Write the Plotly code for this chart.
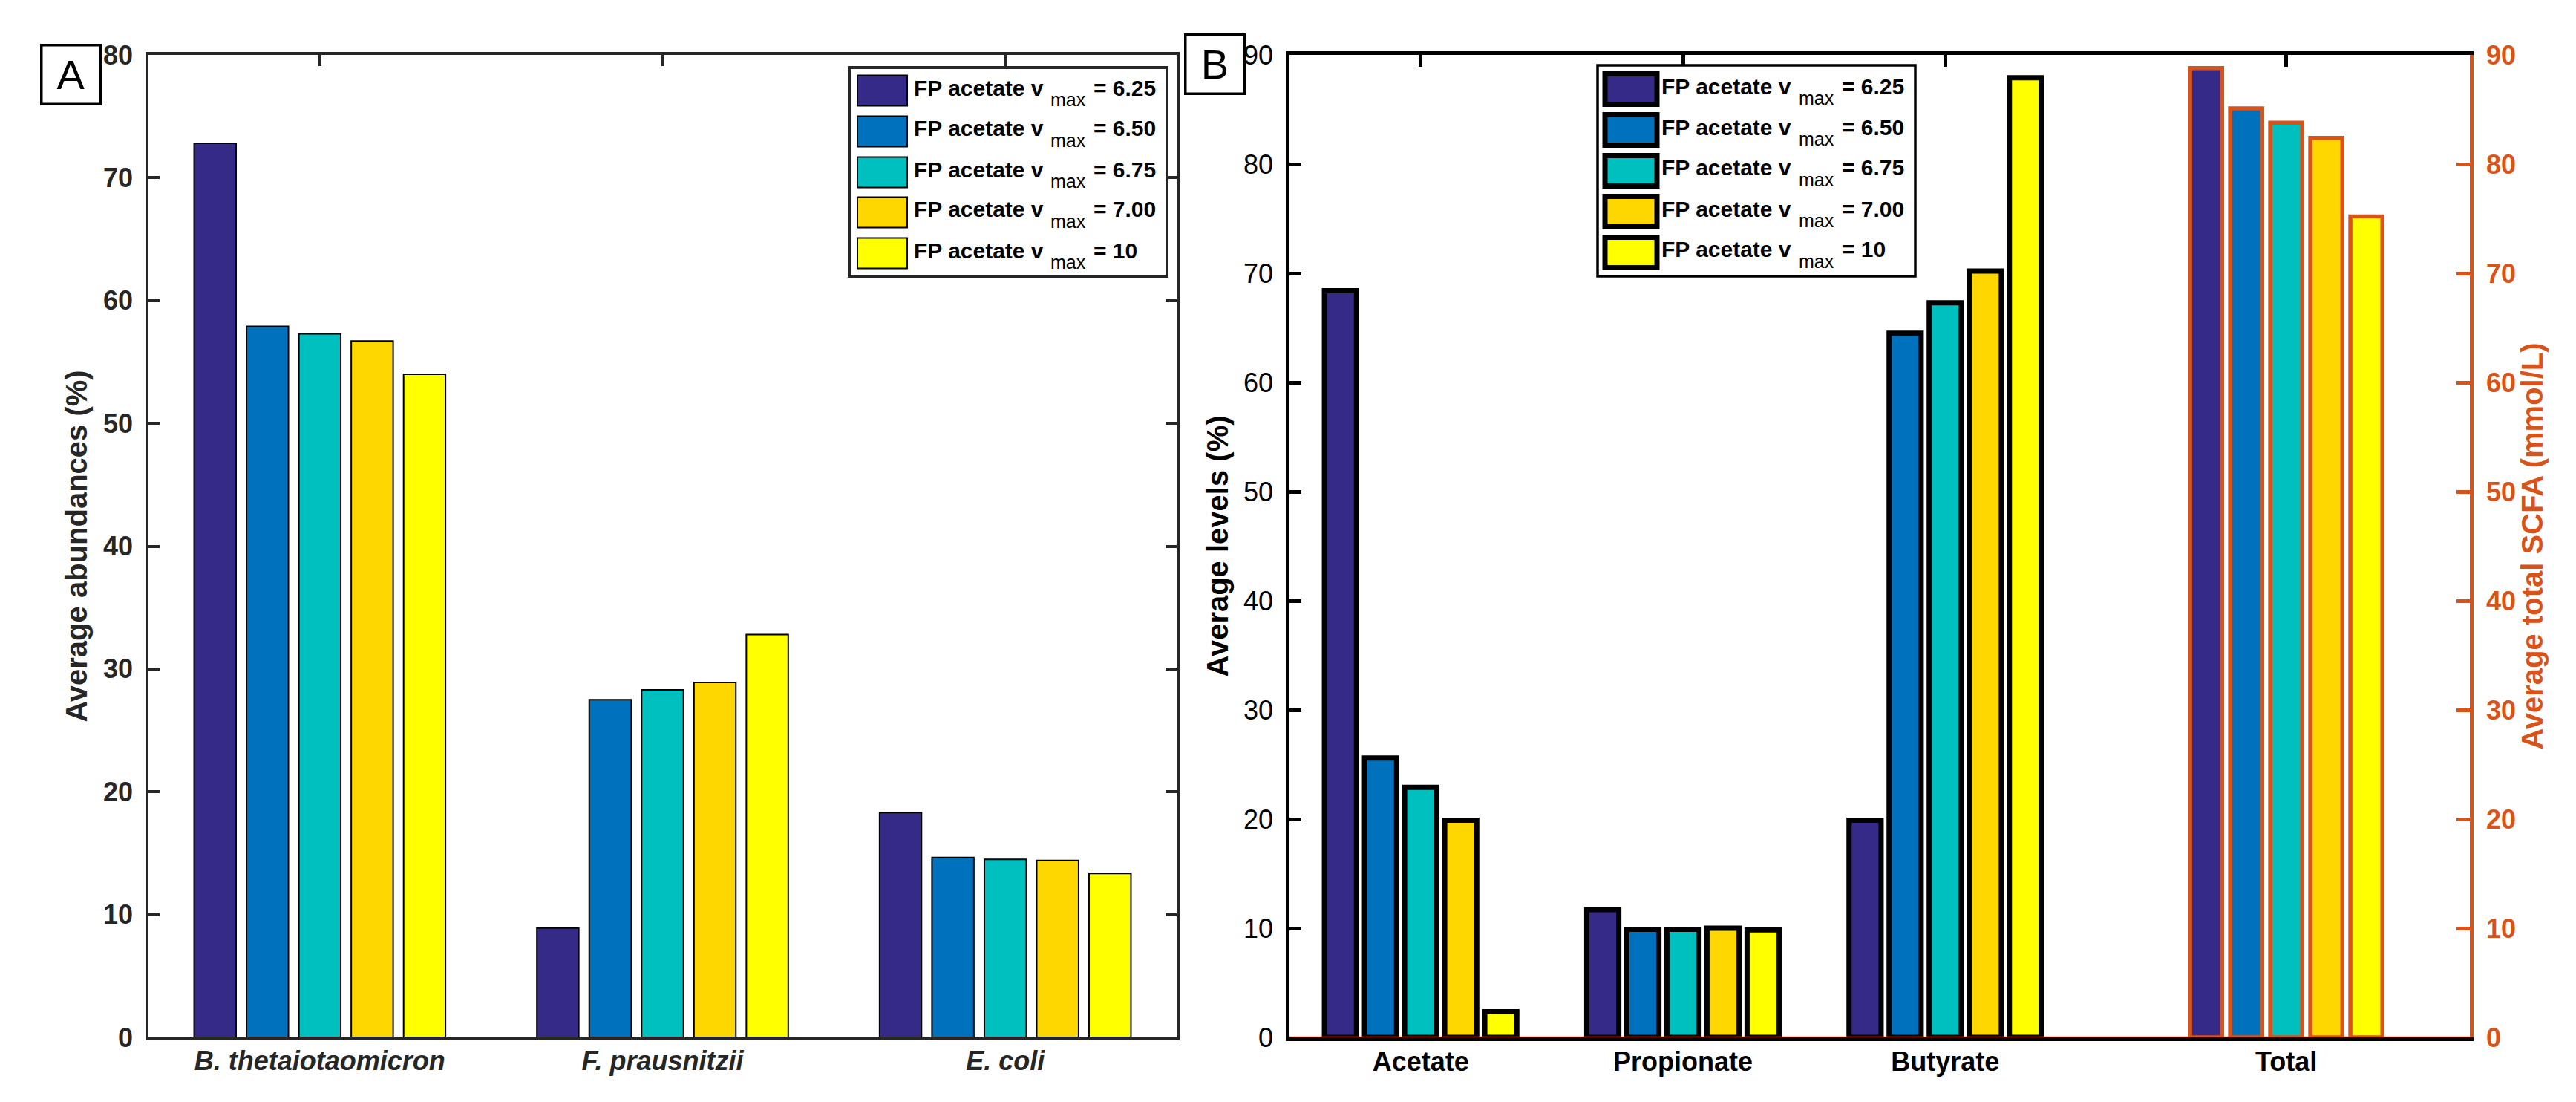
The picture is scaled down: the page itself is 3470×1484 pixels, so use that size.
import plotly.graph_objects as go

# ---------------- data ----------------
species = ["B. thetaiotaomicron", "F. prausnitzii", "E. coli"]
scfa_names = ["Acetate", "Propionate", "Butyrate"]
total_name = "Total"
vmax_labels = ["6.25", "6.50", "6.75", "7.00", "10"]
colors = ["#352A87", "#0072BD", "#00BFBF", "#FFD700", "#FFFF00"]

# Panel A: average abundances (%) per species, one list per vmax
abund_v625 = [72.8, 8.9, 18.3]
abund_v650 = [57.9, 27.5, 14.65]
abund_v675 = [57.3, 28.3, 14.5]
abund_v700 = [56.7, 28.9, 14.4]
abund_v10 = [54.0, 32.8, 13.35]

# Panel B: average levels (%) per SCFA, one list per vmax
levels_v625 = [68.4, 11.7, 19.9]
levels_v650 = [25.6, 9.9, 64.5]
levels_v675 = [22.9, 9.9, 67.3]
levels_v700 = [19.9, 10.0, 70.2]
levels_v10 = [2.35, 9.85, 87.9]

# Panel B right axis: average total SCFA (mmol/L), one value per vmax
total_scfa = [88.8, 85.1, 83.8, 82.4, 75.2]

abund = [abund_v625, abund_v650, abund_v675, abund_v700, abund_v10]
levels = [levels_v625, levels_v650, levels_v675, levels_v700, levels_v10]

# ---------------- layout helpers ----------------
W, H = 3470, 1484
FONT = "Liberation Sans, Arial, Helvetica, sans-serif"
ORANGE = "#D95319"
DARK = "#262626"


def fx(p):
    return p / W


def fy(p):
    return 1 - p / H


scfa_pos = list(range(1, len(scfa_names) + 1))
TOTAL_POS = 4.3

fig = go.Figure()

for i, v in enumerate(vmax_labels):
    fig.add_trace(go.Bar(
        x=species, y=abund[i], name=f"FP acetate vmax = {v}",
        marker=dict(color=colors[i], line=dict(color="black", width=2)),
        xaxis="x", yaxis="y", showlegend=False,
    ))
for i, v in enumerate(vmax_labels):
    fig.add_trace(go.Bar(
        x=scfa_pos, y=levels[i], name=f"FP acetate vmax = {v}",
        marker=dict(color=colors[i], line=dict(color="black", width=7)),
        xaxis="x2", yaxis="y2", showlegend=False,
    ))
for i, v in enumerate(vmax_labels):
    fig.add_trace(go.Bar(
        x=[TOTAL_POS], y=[total_scfa[i]], name=f"Total, vmax = {v}",
        marker=dict(color=colors[i], line=dict(color=ORANGE, width=5.5)),
        xaxis="x2", yaxis="y3", showlegend=False,
    ))

common_ax = dict(showgrid=False, zeroline=False, showline=True, ticks="inside",
                 layer="below traces", automargin=False)

shapes = []
annotations = []

# baseline of right-axis bars
shapes.append(dict(type="line", xref="x2 domain", yref="y3", x0=0, x1=1, y0=0, y1=0,
                   line=dict(color=ORANGE, width=2.5), layer="above"))


def add_legend(x0, x1, y0, y1, sw_x0, sw_x1, rows, sw_h, sw_lw, frame_color, frame_w,
               text_x, sub_x, eq_x):
    shapes.append(dict(type="rect", xref="paper", yref="paper",
                       x0=fx(x0), x1=fx(x1), y0=fy(y1), y1=fy(y0),
                       line=dict(color=frame_color, width=frame_w), fillcolor="white", layer="above"))
    for i, v in enumerate(vmax_labels):
        yc = rows[i]
        shapes.append(dict(type="rect", xref="paper", yref="paper",
                           x0=fx(sw_x0), x1=fx(sw_x1), y0=fy(yc + sw_h / 2), y1=fy(yc - sw_h / 2),
                           line=dict(color="black", width=sw_lw), fillcolor=colors[i], layer="above"))
        annotations.append(dict(
            xref="paper", yref="paper", x=fx(text_x), y=fy(yc - 4), xanchor="left", yanchor="middle",
            showarrow=False, text="FP acetate v",
            font=dict(family=FONT, size=30, color="black", weight="bold")))
        annotations.append(dict(
            xref="paper", yref="paper", x=fx(sub_x), y=fy(yc + 12), xanchor="left", yanchor="middle",
            showarrow=False, text="max",
            font=dict(family=FONT, size=25, color="black")))
        annotations.append(dict(
            xref="paper", yref="paper", x=fx(eq_x), y=fy(yc - 4), xanchor="left", yanchor="middle",
            showarrow=False, text=f"= {v}",
            font=dict(family=FONT, size=30, color="black", weight="bold")))


add_legend(1136, 1564, 83, 364, 1147, 1214, [114, 169, 224, 278, 333], 41, 2, DARK, 4,
           1221, 1405, 1463)
add_legend(2144, 2572, 80, 364, 2154, 2224, [112, 167, 222, 277, 332], 41, 7, "black", 3.5,
           2228, 2413, 2471)

# panel letters
for letter, cx, cy in [("A", 87.5, 92.5), ("B", 1628.5, 78.5)]:
    annotations.append(dict(xref="paper", yref="paper", x=fx(cx), y=fy(cy), text=letter,
                            showarrow=False, xanchor="center", yanchor="middle",
                            font=dict(family=FONT, size=56, color="black"),
                            bordercolor="black", borderwidth=3.5, width=76, height=76, borderpad=0))

fig.update_layout(
    width=W, height=H,
    margin=dict(l=0, r=0, t=0, b=0),
    paper_bgcolor="white", plot_bgcolor="white",
    barmode="group", bargap=0.236, bargroupgap=0.2,
    font=dict(family=FONT, size=36, color="black"),
    xaxis=dict(domain=[fx(192), fx(1577)], anchor="y", range=[-0.5, 2.5],
               type="category", mirror="ticks", linecolor=DARK, linewidth=3.5,
               tickcolor=DARK, tickwidth=3.5, ticklen=15,
               tickfont=dict(family=FONT, size=36, color=DARK, weight="bold", style="italic"),
               ticklabelstandoff=-3, **common_ax),
    yaxis=dict(domain=[fy(1389), fy(66)], anchor="x", range=[0, 80], dtick=10,
               mirror="ticks", linecolor=DARK, linewidth=3.5, tickcolor=DARK, tickwidth=3.5,
               ticklen=15, tickfont=dict(family=FONT, size=36, color=DARK, weight="bold"),
               ticklabelstandoff=10,
               title=dict(text="Average abundances (%)", standoff=10,
                          font=dict(family=FONT, size=40, color=DARK, weight="bold")),
               **common_ax),
    xaxis2=dict(domain=[fx(1729), fx(3319)], anchor="y2", range=[0.5, 5.0],
                tickvals=scfa_pos + [TOTAL_POS], ticktext=scfa_names + [total_name],
                mirror="ticks", linecolor="black", linewidth=4.5, tickcolor="black",
                tickwidth=4.5, ticklen=16,
                tickfont=dict(family=FONT, size=36, color="black", weight="bold"),
                ticklabelstandoff=-3, **common_ax),
    yaxis2=dict(domain=[fy(1389), fy(66)], anchor="x2", range=[0, 90], dtick=10,
                mirror=False, linecolor="black", linewidth=4.5, tickcolor="black",
                tickwidth=4.5, ticklen=16,
                tickfont=dict(family=FONT, size=36, color="black"), ticklabelstandoff=10,
                title=dict(text="Average levels (%)", standoff=10,
                           font=dict(family=FONT, size=40, color="black", weight="bold")),
                **common_ax),
    yaxis3=dict(overlaying="y2", anchor="x2", side="right", range=[0, 90], dtick=10,
                linecolor=ORANGE, linewidth=4.5, tickcolor=ORANGE, tickwidth=4.5, ticklen=18,
                tickfont=dict(family=FONT, size=36, color=ORANGE, weight="bold"),
                ticklabelstandoff=10,
                title=dict(text="Average total SCFA (mmol/L)", standoff=10,
                           font=dict(family=FONT, size=40, color=ORANGE, weight="bold")),
                **common_ax),
    shapes=shapes,
    annotations=annotations,
)

fig.write_html("out.html")
